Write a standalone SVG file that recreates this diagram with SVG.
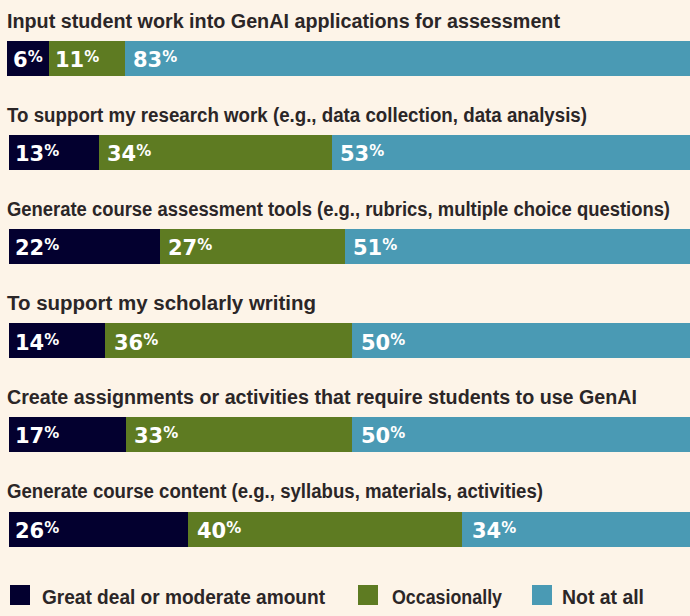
<svg xmlns="http://www.w3.org/2000/svg" width="690" height="616" viewBox="0 0 690 616">
<style>
.t{font-family:"Liberation Sans",Arial,sans-serif;font-weight:bold;font-size:20px;fill:#2b2627}
.p{font-family:"DejaVu Sans",Verdana,sans-serif;font-weight:bold;font-size:21px;fill:#ffffff}
.s{font-size:15px}
.a{fill:#03002f}.b{fill:#5e7b22}.c{fill:#4a9ab4}
</style>
<rect width="690" height="616" fill="#fdf4e8"/>
<g id="row1">
<text class="t" x="7" y="28" textLength="553" lengthAdjust="spacingAndGlyphs">Input student work into GenAI applications for assessment</text>
<rect class="a" x="7" y="41" width="42" height="35"/><rect class="b" x="49" y="41" width="76" height="35"/><rect class="c" x="125" y="41" width="570" height="35"/>
<text class="p" x="13" y="67">6<tspan class="s" dy="-5">%</tspan></text>
<text class="p" x="55" y="67">11<tspan class="s" dy="-5">%</tspan></text>
<text class="p" x="133" y="67">83<tspan class="s" dy="-5">%</tspan></text>
</g>
<g id="row2">
<text class="t" x="7" y="122" textLength="580" lengthAdjust="spacingAndGlyphs">To support my research work (e.g., data collection, data analysis)</text>
<rect class="a" x="9" y="135" width="90" height="35"/><rect class="b" x="99" y="135" width="233" height="35"/><rect class="c" x="332" y="135" width="363" height="35"/>
<text class="p" x="15" y="161">13<tspan class="s" dy="-5">%</tspan></text>
<text class="p" x="107" y="161">34<tspan class="s" dy="-5">%</tspan></text>
<text class="p" x="340" y="161">53<tspan class="s" dy="-5">%</tspan></text>
</g>
<g id="row3">
<text class="t" x="7" y="216" textLength="663" lengthAdjust="spacingAndGlyphs">Generate course assessment tools (e.g., rubrics, multiple choice questions)</text>
<rect class="a" x="9" y="229" width="151" height="35"/><rect class="b" x="160" y="229" width="185" height="35"/><rect class="c" x="345" y="229" width="350" height="35"/>
<text class="p" x="15" y="255">22<tspan class="s" dy="-5">%</tspan></text>
<text class="p" x="168" y="255">27<tspan class="s" dy="-5">%</tspan></text>
<text class="p" x="353" y="255">51<tspan class="s" dy="-5">%</tspan></text>
</g>
<g id="row4">
<text class="t" x="7" y="310" textLength="309" lengthAdjust="spacingAndGlyphs">To support my scholarly writing</text>
<rect class="a" x="9" y="323" width="96" height="35"/><rect class="b" x="105" y="323" width="247" height="35"/><rect class="c" x="352" y="323" width="343" height="35"/>
<text class="p" x="15" y="350">14<tspan class="s" dy="-5">%</tspan></text>
<text class="p" x="114" y="350">36<tspan class="s" dy="-5">%</tspan></text>
<text class="p" x="361" y="350">50<tspan class="s" dy="-5">%</tspan></text>
</g>
<g id="row5">
<text class="t" x="7" y="404" textLength="630" lengthAdjust="spacingAndGlyphs">Create assignments or activities that require students to use GenAI</text>
<rect class="a" x="9" y="417" width="117" height="35"/><rect class="b" x="126" y="417" width="226" height="35"/><rect class="c" x="352" y="417" width="343" height="35"/>
<text class="p" x="15" y="443">17<tspan class="s" dy="-5">%</tspan></text>
<text class="p" x="134" y="443">33<tspan class="s" dy="-5">%</tspan></text>
<text class="p" x="361" y="443">50<tspan class="s" dy="-5">%</tspan></text>
</g>
<g id="row6">
<text class="t" x="7" y="498" textLength="536" lengthAdjust="spacingAndGlyphs">Generate course content (e.g., syllabus, materials, activities)</text>
<rect class="a" x="9" y="512" width="179" height="35"/><rect class="b" x="188" y="512" width="274" height="35"/><rect class="c" x="462" y="512" width="233" height="35"/>
<text class="p" x="15" y="538">26<tspan class="s" dy="-5">%</tspan></text>
<text class="p" x="197" y="538">40<tspan class="s" dy="-5">%</tspan></text>
<text class="p" x="472" y="538">34<tspan class="s" dy="-5">%</tspan></text>
</g>
<g id="legend">
<rect class="a" x="10" y="585" width="20" height="20"/>
<text class="t" x="42" y="604" textLength="283" lengthAdjust="spacingAndGlyphs">Great deal or moderate amount</text>
<rect class="b" x="358" y="585" width="20" height="20"/>
<text class="t" x="392" y="604" textLength="110" lengthAdjust="spacingAndGlyphs">Occasionally</text>
<rect class="c" x="532" y="585" width="20" height="20"/>
<text class="t" x="562" y="604" textLength="82" lengthAdjust="spacingAndGlyphs">Not at all</text>
</g>
</svg>
